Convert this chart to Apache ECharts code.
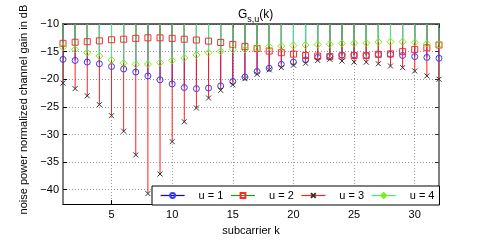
<!DOCTYPE html>
<html>
<head>
<meta charset="utf-8">
<script src="https://cdn.jsdelivr.net/npm/echarts@6/dist/echarts.min.js"></script>
<style>html,body{margin:0;padding:0;background:#fff}#c{width:485px;height:241px}</style>
</head>
<body>
<div id="c"></div>
<script>
const subcarriers = Array.from({length: 32}, (_, i) => i + 1);
const u1 = [-16.4,-16.6,-16.9,-17.2,-17.7,-18.15,-18.7,-19.4,-20.1,-20.85,-21.5,-21.7,-21.6,-21.2,-20.4,-19.6,-18.6,-18.0,-17.3,-16.9,-16.5,-16.05,-15.9,-15.6,-15.6,-15.7,-15.5,-15.5,-15.7,-15.9,-16.05,-16.2];
const u2 = [-13.5,-13.3,-13.2,-13.05,-12.85,-12.75,-12.6,-12.5,-12.5,-12.6,-12.75,-12.9,-13.1,-13.35,-13.7,-14.05,-14.45,-14.9,-15.2,-15.45,-15.7,-15.8,-15.9,-15.8,-15.7,-15.7,-15.5,-15.4,-15.0,-14.6,-14.3,-13.8];
const u3 = [-20.7,-21.7,-23.0,-24.6,-26.6,-29.4,-33.7,-40.7,-37.15,-31.3,-27.7,-25.2,-23.4,-22.0,-21.0,-19.9,-19.1,-18.3,-17.9,-17.45,-17.1,-16.6,-16.4,-16.7,-16.9,-16.9,-17.2,-17.6,-17.9,-18.5,-19.4,-20.0];
const u4 = [-14.2,-14.6,-15.2,-15.8,-16.5,-17.1,-17.3,-17.25,-17.0,-16.6,-16.15,-15.6,-15.2,-14.95,-14.6,-14.6,-14.35,-14.1,-14.0,-13.9,-13.8,-13.7,-13.65,-13.5,-13.45,-13.45,-13.25,-13.2,-13.2,-13.35,-13.6,-13.75];
const seriesNames = ['u = 1', 'u = 2', 'u = 3', 'u = 4'];
const stemBaseline = 0;

const FONT = 'Liberation Sans';
const stemColors = ['#0000ff', '#16a016', '#ff2020', '#3cee8c'];
const markerColors = ['#3838ff', '#ff2a2a', '#333333', '#78f000'];
const symbols = ['circle', 'rect', 'path://M0,0L10,10M10,0L0,10', 'diamond'];
const symbolSizes = [6, 6, 5, 7];
const allValues = [u1, u2, u3, u4];

const chart = echarts.init(document.getElementById('c'), null, {renderer: 'canvas'});

const series = [];
allValues.forEach((vals, i) => {
  const pts = subcarriers.map((k, j) => [k, vals[j]]);
  series.push({
    type: 'custom',
    name: seriesNames[i] + ' stem',
    clip: true,
    silent: true,
    data: pts,
    renderItem: (params, api) => {
      const p0 = api.coord([api.value(0), api.value(1)]);
      const p1 = api.coord([api.value(0), stemBaseline]);
      return {type: 'line', shape: {x1: p0[0], y1: p0[1], x2: p1[0], y2: p1[1]},
        style: {stroke: stemColors[i], lineWidth: 1}};
    }
  });
  series.push({
    type: 'line',
    name: seriesNames[i],
    data: pts,
    symbol: symbols[i],
    symbolSize: symbolSizes[i],
    showSymbol: true,
    lineStyle: {opacity: 0},
    itemStyle: {color: 'transparent', borderColor: markerColors[i], borderWidth: 1},
    emphasis: {disabled: true}
  });
});

const minusFmt = v => String(v).replace('-', '\u2212');

chart.setOption({
  animation: false,
  textStyle: {fontFamily: FONT},
  title: {
    text: '{g|G}{s|s,u}{g|(k)}',
    left: 233, top: 1,
    textStyle: {
      fontWeight: 'normal',
      rich: {
        g: {fontFamily: FONT, fontSize: 12, fontWeight: 'normal', color: '#000', lineHeight: 18, verticalAlign: 'middle'},
        s: {fontFamily: FONT, fontSize: 9, fontWeight: 'normal', color: '#000', lineHeight: 18, verticalAlign: 'bottom'}
      }
    }
  },
  grid: {left: 63, right: 46, top: 24, bottom: 31},
  legend: {
    left: 152, top: 186,
    padding: [4, 5, 4, 8],
    itemGap: 7,
    itemWidth: 24, itemHeight: 6,
    borderColor: '#000', borderWidth: 1,
    backgroundColor: '#fff',
    textStyle: {fontFamily: FONT, fontSize: 11, color: '#000', padding: [0, 0, 0, 9]},
    data: seriesNames.map((n, i) => ({name: n, lineStyle: {color: stemColors[i], width: 1.2, opacity: 1}}))
  },
  xAxis: [{
    type: 'value', min: 1, max: 32,
    name: 'subcarrier k', nameLocation: 'middle', nameGap: 17,
    nameTextStyle: {fontFamily: FONT, fontSize: 11, color: '#000'},
    axisLine: {onZero: false, lineStyle: {color: '#000', width: 1}},
    axisTick: {inside: true, length: 4, lineStyle: {color: '#000'}},
    axisLabel: {fontFamily: FONT, fontSize: 11, color: '#000', margin: 5, showMinLabel: false, showMaxLabel: false},
    splitLine: {show: true, lineStyle: {color: '#9a9a9a', type: [1, 2], width: 1}}
  }, {
    type: 'value', min: 1, max: 32, position: 'top',
    axisLine: {onZero: false, lineStyle: {color: '#333', width: 1.5}},
    axisTick: {inside: true, length: 4, lineStyle: {color: '#333'}},
    axisLabel: {show: false}, splitLine: {show: false}
  }],
  yAxis: [{
    type: 'value', min: -42.6, max: -10,
    name: 'noise power normalized channel gain in dB', nameLocation: 'middle', nameGap: 25,
    nameTextStyle: {fontFamily: FONT, fontSize: 11, color: '#000', padding: [0, 0, 0, 9]},
    axisLine: {show: true, onZero: false, lineStyle: {color: '#808080', width: 2}},
    axisTick: {show: true, inside: true, length: 4, lineStyle: {color: '#000'}},
    axisLabel: {fontFamily: FONT, fontSize: 11, color: '#000', margin: 4, showMinLabel: false, formatter: minusFmt},
    splitLine: {show: true, lineStyle: {color: '#9a9a9a', type: [1, 2], width: 1}}
  }, {
    type: 'value', min: -42.6, max: -10, position: 'right',
    axisLine: {show: true, onZero: false, lineStyle: {color: '#808080', width: 2}},
    axisTick: {show: true, inside: true, length: 4, lineStyle: {color: '#333'}},
    axisLabel: {show: false}, splitLine: {show: false}
  }],
  series: series
});
</script>
</body>
</html>
